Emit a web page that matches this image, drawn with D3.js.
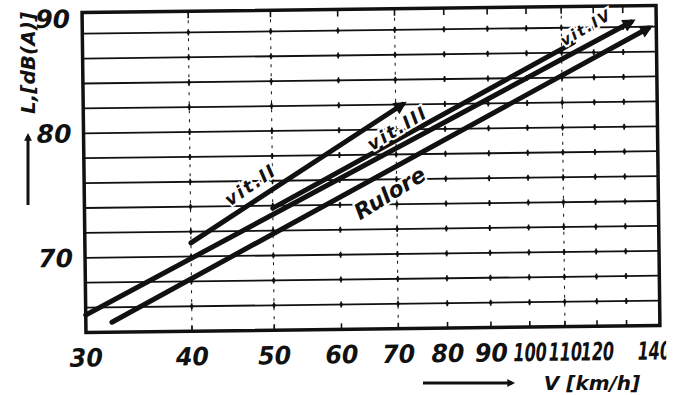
<!DOCTYPE html>
<html>
<head>
<meta charset="utf-8">
<script src="https://cdn.jsdelivr.net/npm/d3@7"></script>
<style>
  html, body { margin: 0; padding: 0; background: #fff; }
  svg { display: block; }
  text { font-family: "DejaVu Sans", sans-serif; font-style: italic; font-weight: bold; fill: #111; }
</style>
</head>
<body>
<div id="chart"></div>
<script>
// speed axis (log) and level axis
const speedLabels = [30, 40, 50, 60, 70, 80, 90, 100, 110, 120, 140];
const speedMarks = [40, 50, 60, 70, 80, 90, 100, 110, 120, 130];
const speedGuides = [40, 50, 70, 110];
const levelLabels = [70, 80, 90];
const levelGrid = [66, 68, 70, 72, 74, 76, 78, 80, 82, 84, 86, 88];

// each curve: [speed km/h, level dB(A)] at start and end
const vitII = [[40, 71.1], [71.3, 82.0]];
const vitIII = [[50, 73.8], [113.6, 86.8]];
const vitIV = [[30, 65.4], [132.9, 88.4]];
const rulore = [[32.2, 64.8], [139.3, 87.9]];

const curveNames = ['vit.II', 'vit.III', 'vit.IV', 'Rulore'];
// label anchor [speed, level, angle]
const labelAt = [[47.1, 75.7, -34], [70.3, 80.1, -31], [117.6, 88.0, -30], [68.7, 74.9, -31]];

const width = 686;
const height = 395;

const x = d3.scaleLog().domain([30, 142.3]).range([84, 658]);
const y = d3.scaleLinear().domain([64, 89.7]).range([329, 9]);

const svg = d3.select('#chart').append('svg')
  .attr('width', width)
  .attr('height', height);

const defs = svg.append('defs');
defs.append('marker')
  .attr('id', 'head')
  .attr('viewBox', '0 0 10 10')
  .attr('refX', 6)
  .attr('refY', 5)
  .attr('markerWidth', 3.2)
  .attr('markerHeight', 2.6)
  .attr('markerUnits', 'strokeWidth')
  .attr('orient', 'auto')
  .append('path')
  .attr('d', 'M0,0 L10,5 L0,10 z')
  .attr('fill', '#111');

// the original scan crops the last speed label
defs.append('clipPath').attr('id', 'cut')
  .append('rect')
  .attr('x', 0).attr('y', 0)
  .attr('width', 664).attr('height', height);

// the scan is a little tilted
const g = svg.append('g').attr('transform', 'rotate(-0.7 371 170)');

const [x0, x1] = x.range();
const [yb, yt] = y.range();

// horizontal grid
g.append('g').selectAll('line').data(levelGrid).join('line')
  .attr('x1', x0).attr('x2', x1)
  .attr('y1', (d) => y(d)).attr('y2', (d) => y(d))
  .attr('stroke', '#111').attr('stroke-width', 1.8);

// faint vertical guides
g.append('g').selectAll('line').data(speedGuides).join('line')
  .attr('x1', (d) => x(d)).attr('x2', (d) => x(d))
  .attr('y1', yt).attr('y2', yb)
  .attr('stroke', '#111').attr('stroke-width', 1)
  .attr('stroke-dasharray', '3,6');

// tick marks sitting on every grid line
const marks = [];
levelGrid.forEach((l) => speedMarks.forEach((s) => marks.push([s, l])));
g.append('g').selectAll('line').data(marks).join('line')
  .attr('x1', (d) => x(d[0])).attr('x2', (d) => x(d[0]))
  .attr('y1', (d) => y(d[1]) - 3).attr('y2', (d) => y(d[1]) + 3)
  .attr('stroke', '#111').attr('stroke-width', 1.6);
g.append('g').selectAll('circle').data(marks).join('circle')
  .attr('cx', (d) => x(d[0])).attr('cy', (d) => y(d[1]))
  .attr('r', 1.8).attr('fill', '#111');

// ticks on top and bottom of the frame
g.append('g').selectAll('line').data(speedMarks).join('line')
  .attr('x1', (d) => x(d)).attr('x2', (d) => x(d))
  .attr('y1', yt).attr('y2', yt + 7)
  .attr('stroke', '#111').attr('stroke-width', 1.6);
g.append('g').selectAll('line').data(speedMarks).join('line')
  .attr('x1', (d) => x(d)).attr('x2', (d) => x(d))
  .attr('y1', yb).attr('y2', yb - 6)
  .attr('stroke', '#111').attr('stroke-width', 1.6);

// frame
g.append('rect')
  .attr('x', x0).attr('y', yt)
  .attr('width', x1 - x0).attr('height', yb - yt)
  .attr('fill', 'none').attr('stroke', '#111').attr('stroke-width', 3.5);

// curves
const line = d3.line().x((d) => x(d[0])).y((d) => y(d[1]));
const curves = [vitII, vitIII, vitIV, rulore];
g.append('g').selectAll('path').data(curves).join('path')
  .attr('d', line)
  .attr('fill', 'none')
  .attr('stroke', '#111')
  .attr('stroke-width', 5)
  .attr('stroke-linecap', 'round')
  .attr('marker-end', (d, i) => (i === 1 ? null : 'url(#head)'));

// curve labels, with white halo so grid breaks around them
const sizes = [18, 18, 15, 22];
g.append('g').selectAll('text').data(labelAt).join('text')
  .attr('transform', (d) => `translate(${x(d[0])},${y(d[1])}) rotate(${d[2]})`)
  .attr('text-anchor', 'middle')
  .attr('dy', '0.35em')
  .attr('font-size', (d, i) => sizes[i])
  .attr('letter-spacing', (d, i) => (i === 3 ? 0 : 2))
  .attr('stroke', '#fff')
  .attr('stroke-width', 4)
  .attr('paint-order', 'stroke')
  .text((d, i) => curveNames[i]);

// speed tick labels, three-digit ones squeezed as in the original
g.append('g').attr('clip-path', 'url(#cut)')
  .selectAll('text').data(speedLabels).join('text')
  .attr('transform', (d) => `translate(${x(d)},${yb + 34}) scale(${d >= 100 ? 0.64 : 0.95},1)`)
  .attr('text-anchor', 'middle')
  .attr('font-size', 25)
  .attr('font-family', '"DejaVu Sans Condensed", sans-serif')
  .text((d) => d);

// level tick labels
g.append('g').selectAll('text').data(levelLabels).join('text')
  .attr('x', x0 - 12)
  .attr('y', (d) => Math.max(y(d), yt + 6))
  .attr('dy', '0.36em')
  .attr('text-anchor', 'end')
  .attr('font-size', 25)
  .attr('font-family', '"DejaVu Sans Condensed", sans-serif')
  .text((d) => d);

// axis titles with their arrows
svg.append('text')
  .attr('transform', 'translate(35,63) rotate(-90)')
  .attr('text-anchor', 'middle')
  .attr('font-size', 20)
  .text('L,[dB(A)]');
svg.append('line')
  .attr('x1', 28).attr('x2', 28)
  .attr('y1', 205).attr('y2', 136)
  .attr('stroke', '#111').attr('stroke-width', 3)
  .attr('marker-end', 'url(#head)');

svg.append('text')
  .attr('x', 592).attr('y', 390)
  .attr('text-anchor', 'middle')
  .attr('font-size', 20)
  .text('V [km/h]');
svg.append('line')
  .attr('x1', 423).attr('x2', 512)
  .attr('y1', 383).attr('y2', 383)
  .attr('stroke', '#111').attr('stroke-width', 3)
  .attr('marker-end', 'url(#head)');
</script>
</body>
</html>
